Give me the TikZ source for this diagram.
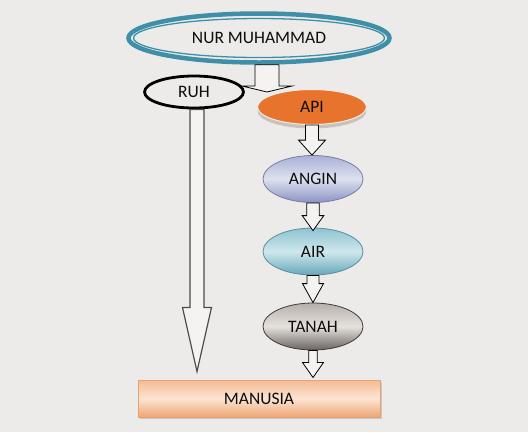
\documentclass[tikz,border=0pt]{standalone}
\usepackage{fontspec}
\setmainfont{Carlito}
\usetikzlibrary{shapes.geometric, calc, shadows}

\definecolor{bg}{HTML}{EDEBE9}
\definecolor{nurblue}{HTML}{3F8FA8}
\definecolor{apiorange}{HTML}{E8732C}
\definecolor{apirim}{HTML}{C9C1BB}
\definecolor{angintop}{HTML}{A9B1D6}
\definecolor{anginmid}{HTML}{DEE1EF}
\definecolor{anginbot}{HTML}{8A93C3}
\definecolor{airtop}{HTML}{8DC3D0}
\definecolor{airmid}{HTML}{CFE7EC}
\definecolor{airbot}{HTML}{66A8B9}
\definecolor{tanahtop}{HTML}{B6B0AC}
\definecolor{tanahmid}{HTML}{E5E1DD}
\definecolor{tanahbot}{HTML}{6A6360}
\definecolor{mantop}{HTML}{F3BC93}
\definecolor{manmid}{HTML}{FCE4D3}
\definecolor{manbot}{HTML}{ECA673}

\tikzset{
	oval/.style = {ellipse, inner sep = 0pt, minimum width = 100pt, minimum height = 47pt,
		text = black!95, font = \fontsize{17.5}{20}\selectfont},
	blockarr/.style = {draw = black, fill = bg!60!white, line width = 0.8pt, line join = miter}
}

% vertical block arrow: [style]{from}{tip}{stem half}{head half}{head length}
\newcommand{\blockarrow}[6][]{%
	\draw[blockarr, #1] let \p1 = (#2), \p2 = (#3) in
		(\x1-#4pt, \y1) -- (\x1-#4pt, \y2+#6pt) -- (\x1-#5pt, \y2+#6pt) -- (\x1, \y2)
		-- (\x1+#5pt, \y2+#6pt) -- (\x1+#4pt, \y2+#6pt) -- (\x1+#4pt, \y1) -- cycle;}

\begin{document}
\begin{tikzpicture}[x = 1pt, y = -1pt]
		\useasboundingbox (0, 0) rectangle (528, 432);
		\fill[bg] (0, 0) rectangle (528, 432);
		% top and left branch
		\node[oval, draw = nurblue, line width = 4.5pt, minimum width = 261pt, minimum height = 49pt]
			(nur) at (259, 38) {NUR MUHAMMAD};
		\draw[nurblue, line width = 1.3pt] (nur.center) ellipse [x radius = 125.5, y radius = 19.5];
		\node[oval, draw = black, line width = 2.8pt, minimum width = 99pt, minimum height = 32pt]
			(ruh) at (194, 92) {RUH};
		% right branch
		\node[oval, fill = apiorange, draw = bg!80!white, line width = 1pt,
			minimum width = 109pt, minimum height = 35pt,
			drop shadow = {shadow xshift = 0pt, shadow yshift = -4pt, fill = apirim, opacity = 1}]
			(api) at (312, 107) {API};
		\node[oval, top color = angintop, bottom color = anginbot, middle color = anginmid,
			draw = anginbot!85!black, line width = 0.8pt]
			(angin) at (313, 179) {ANGIN};
		\node[oval, top color = airtop, bottom color = airbot, middle color = airmid,
			draw = airbot!85!black, line width = 0.8pt]
			(air) at (313, 251.5) {AIR};
		\node[oval, top color = tanahtop, bottom color = tanahbot, middle color = tanahmid,
			draw = tanahbot!60!black, line width = 0.8pt]
			(tanah) at (313, 326.5) {TANAH};
		\node[rectangle, minimum width = 242pt, minimum height = 37pt, draw = manbot!90!brown, line width = 1pt,
			top color = mantop, bottom color = manbot, middle color = manmid,
			drop shadow = {shadow xshift = 2pt, shadow yshift = -2pt, fill = gray!60, opacity = 0.6},
			text = black!95, font = \fontsize{17.5}{20}\selectfont]
			(manusia) at (259, 398.5) {MANUSIA};
		% block arrows
		\blockarrow{$(nur.south)+(8, 0)$}{$(api.north)+(0, 3)$}{12}{25}{6}
		\blockarrow[draw = black!70, line width = 1.2pt]{$(ruh.south)+(3, 0)$}{$(manusia.north)+(0, -8)$}{7}{14.5}{64}
		\blockarrow{$(api.south)$}{$(angin.north)$}{6.5}{13.5}{15}
		\blockarrow{$(angin.south)$}{$(air.north)+(0, 3)$}{6.3}{10.8}{15}
		\blockarrow{$(air.south)$}{$(tanah.north)$}{6}{10.5}{19}
		\blockarrow{$(tanah.south)$}{$(manusia.north)+(0, -2)$}{4.3}{10.5}{15}
	\end{tikzpicture}
\end{document}
